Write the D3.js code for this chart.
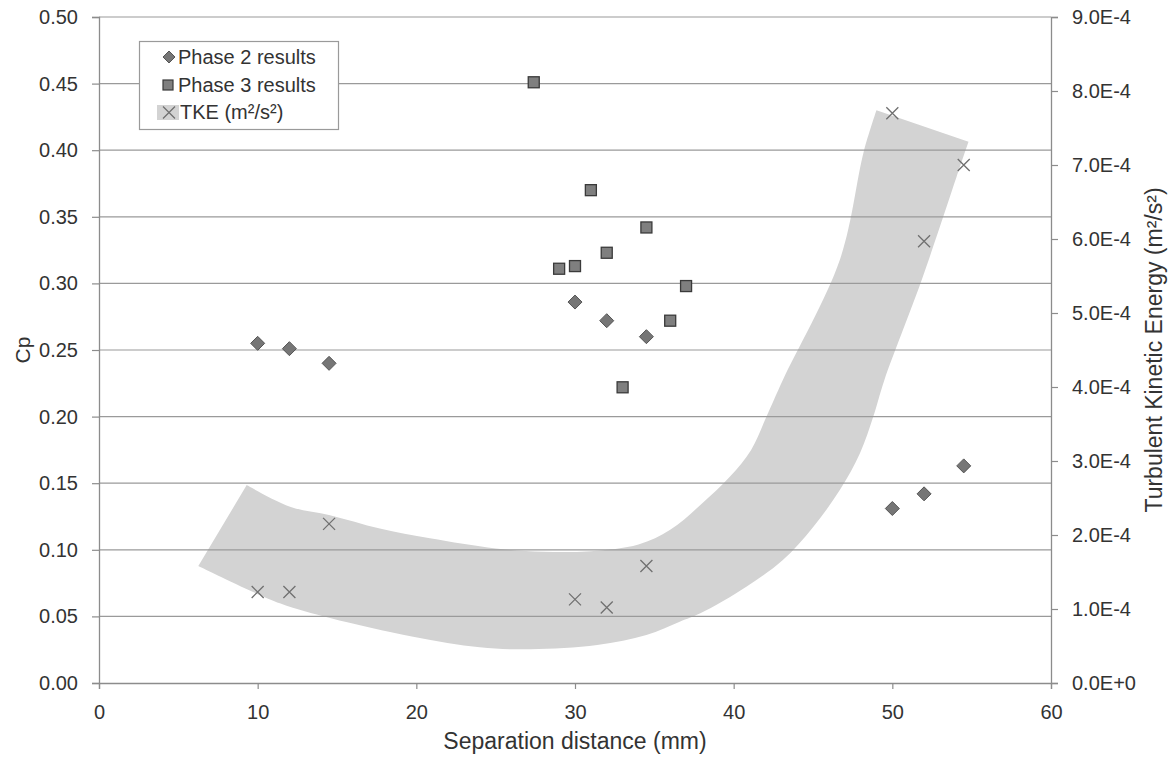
<!DOCTYPE html>
<html><head><meta charset="utf-8">
<script src="https://cdn.jsdelivr.net/npm/d3@7"></script>
<style>
body{margin:0;background:#fff;}
text{font-family:"Liberation Sans",Arial,sans-serif;fill:#333;}
</style></head>
<body><svg id="c" width="1172" height="758"></svg>
<script>
// ---- data ----
const phase2X = [10, 12, 14.5, 30, 32, 34.5, 50, 52, 54.5];
const phase2Cp = [0.255, 0.251, 0.240, 0.286, 0.272, 0.260, 0.131, 0.142, 0.163];
const phase3X = [27.4, 29, 30, 31, 32, 33, 34.5, 36, 37];
const phase3Cp = [0.451, 0.311, 0.313, 0.370, 0.323, 0.222, 0.342, 0.272, 0.298];
const tkeX = [10, 12, 14.5, 30, 32, 34.5, 50, 52, 54.5];
const tkeVal = [1.23e-4, 1.23e-4, 2.15e-4, 1.13e-4, 1.02e-4, 1.58e-4, 7.70e-4, 5.97e-4, 7.00e-4];
const xTicks = [0, 10, 20, 30, 40, 50, 60];
const cpTicks = [0, 0.05, 0.10, 0.15, 0.20, 0.25, 0.30, 0.35, 0.40, 0.45, 0.50];
const tkeTicks = [0, 1e-4, 2e-4, 3e-4, 4e-4, 5e-4, 6e-4, 7e-4, 8e-4, 9e-4];
const tkeTickLabels = ["0.0E+0","1.0E-4","2.0E-4","3.0E-4","4.0E-4","5.0E-4","6.0E-4","7.0E-4","8.0E-4","9.0E-4"];
// hand-drawn trend band (x in mm, y in Cp units)
const bandInner = [[9.31,0.1486],[12.04,0.1324],[14.56,0.126],[17.7,0.116],[20.86,0.1086],[25,0.101],[28,0.0985],[31,0.099],[34,0.104],[36,0.115],[37.9,0.1336],[39.77,0.155],[41.1,0.175],[42.07,0.2],[43.1,0.2275],[46.7,0.318],[48.2,0.399],[49.0,0.430]];
const bandOuter = [[6.26,0.0878],[11.4,0.0598],[14.56,0.0488],[19.8,0.0348],[24,0.0268],[27.2,0.0253],[31.4,0.0285],[34.5,0.036],[36.6,0.046],[37.9,0.0523],[40.8,0.0723],[43.1,0.0923],[45,0.117],[46.7,0.145],[47.96,0.1725],[48.8,0.2],[49.5,0.2275],[51.85,0.3026],[54.05,0.38],[54.8,0.4064]];

// ---- layout ----
const L = 99, R = 1051, T = 17, B = 683;
const svg = d3.select("#c");
const x = d3.scaleLinear().domain([0, 60]).range([L, R]);
const y = d3.scaleLinear().domain([0, 0.5]).range([B, T]);
const y2 = d3.scaleLinear().domain([0, 9e-4]).range([B, T]);

// band
const ln = d3.line().x(d => x(d[0])).y(d => y(d[1])).curve(d3.curveCatmullRom.alpha(0.5));
const p1 = ln(bandInner);
const p2 = ln(bandOuter.slice().reverse());
svg.append("path").attr("d", p1 + "L" + p2.slice(1) + "Z").attr("fill", "#d3d3d3");

// gridlines
svg.append("g").selectAll("line").data(cpTicks.filter(d => d > 0)).join("line")
  .attr("x1", L).attr("x2", R).attr("y1", d => y(d)).attr("y2", d => y(d))
  .attr("stroke", "#9a9a9a").attr("stroke-width", 1.2);

// axes
const axL = svg.append("g").attr("transform", `translate(${L},0)`)
  .call(d3.axisLeft(y).tickValues(cpTicks).tickFormat(d3.format(".2f")).tickSize(7).tickPadding(14));
const axR = svg.append("g").attr("transform", `translate(${R},0)`)
  .call(d3.axisRight(y2).tickValues(tkeTicks).tickFormat((d, i) => tkeTickLabels[i]).tickSize(7).tickPadding(14));
const axB = svg.append("g").attr("transform", `translate(0,${B})`)
  .call(d3.axisBottom(x).tickValues(xTicks).tickSize(6).tickPadding(16));
[axL, axR, axB].forEach(a => {
  a.select(".domain").attr("stroke", "#8c8c8c").attr("stroke-width", 1.3);
  a.selectAll(".tick line").attr("stroke", "#8c8c8c").attr("stroke-width", 1.2);
  a.selectAll("text").attr("font-size", 20).attr("fill", "#333").attr("font-family", "Liberation Sans, Arial, sans-serif");
});

// axis titles
svg.append("text").attr("x", (L + R) / 2).attr("y", 749).attr("text-anchor", "middle").attr("font-size", 23).text("Separation distance (mm)");
svg.append("text").attr("transform", `translate(30,${y(0.25)}) rotate(-90)`).attr("text-anchor", "middle").attr("font-size", 21).text("Cp");
svg.append("text").attr("transform", `translate(1162,${y2(4.5e-4)}) rotate(-90)`).attr("text-anchor", "middle").attr("font-size", 23).text("Turbulent Kinetic Energy (m²/s²)");

// markers
const crossPath = "M-6,-6L6,6M-6,6L6,-6";
svg.append("g").selectAll("path").data(tkeX).join("path")
  .attr("d", crossPath).attr("transform", (d, i) => `translate(${x(d)},${y2(tkeVal[i])})`)
  .attr("stroke", "#707070").attr("stroke-width", 1.3).attr("fill", "none");
svg.append("g").selectAll("rect").data(phase3X).join("rect")
  .attr("x", d => x(d) - 5.5).attr("y", (d, i) => y(phase3Cp[i]) - 5.5).attr("width", 11).attr("height", 11)
  .attr("fill", "#7f7f7f").attr("stroke", "#3a3a3a").attr("stroke-width", 1.3);
const diamond = "M0,-7L7,0L0,7L-7,0Z";
svg.append("g").selectAll("path").data(phase2X).join("path")
  .attr("d", diamond).attr("transform", (d, i) => `translate(${x(d)},${y(phase2Cp[i])})`)
  .attr("fill", "#767676").attr("stroke", "#555").attr("stroke-width", 1);

// legend
const lg = svg.append("g");
lg.append("rect").attr("x", 139.5).attr("y", 41.5).attr("width", 199).attr("height", 88)
  .attr("fill", "#fff").attr("stroke", "#9a9a9a").attr("stroke-width", 1.2);
lg.append("path").attr("d", "M0,-6L6,0L0,6L-6,0Z").attr("transform", "translate(169,57)").attr("fill", "#767676").attr("stroke", "#555");
lg.append("rect").attr("x", 163).attr("y", 80).attr("width", 10).attr("height", 10).attr("fill", "#7f7f7f").attr("stroke", "#3a3a3a").attr("stroke-width", 1.2);
lg.append("rect").attr("x", 157).attr("y", 105).attr("width", 22).attr("height", 15).attr("fill", "#d3d3d3");
lg.append("path").attr("d", "M-6,-6L6,6M-6,6L6,-6").attr("transform", "translate(169,112.5)").attr("stroke", "#707070").attr("stroke-width", 1.3);
const legTexts = ["Phase 2 results", "Phase 3 results", "TKE (m²/s²)"];
lg.selectAll("text.l").data(legTexts).join("text").attr("class", "l")
  .attr("x", (d, i) => i < 2 ? 178 : 180).attr("y", (d, i) => 57 + i * 27.5).attr("dy", "0.35em")
  .attr("font-size", 20).attr("fill", "#222").text(d => d);
</script></body></html>
